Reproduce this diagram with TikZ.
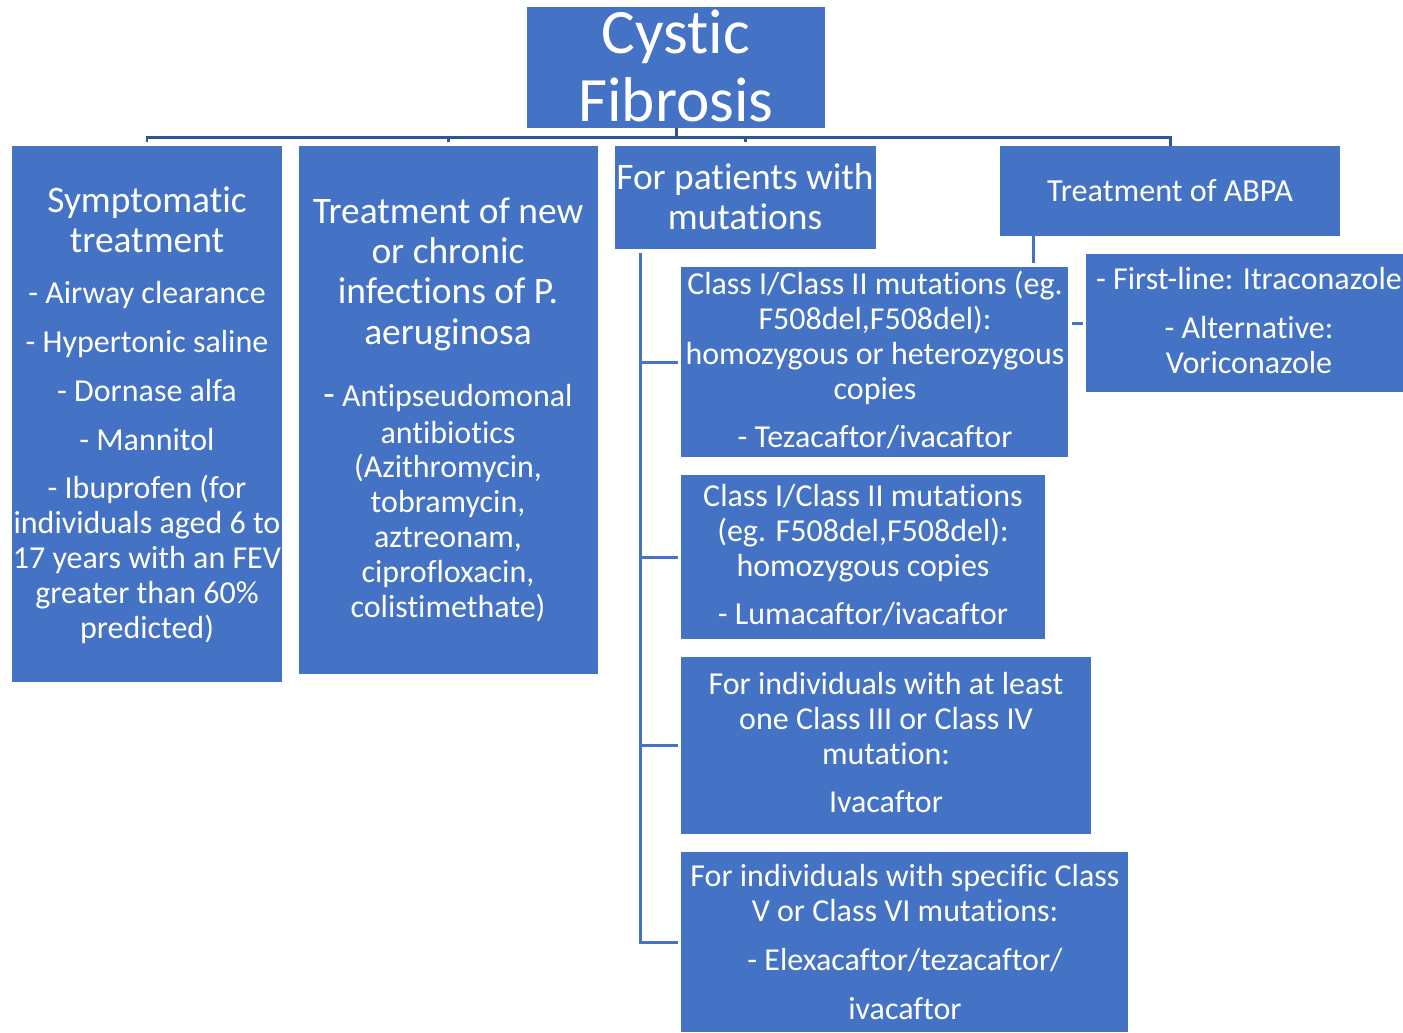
\documentclass[tikz,border=0pt]{standalone}
\usepackage{fontspec}
\setmainfont[Ligatures=NoCommon]{Carlito}
\usepackage{tikz}
\usetikzlibrary{positioning,fit,calc}

\definecolor{cfblue}{HTML}{4472C4}
\definecolor{cfdark}{HTML}{2F5597}
\newcommand\cftitle{\fontsize{36}{38.6}\selectfont}
\newcommand\cfhead{\fontsize{21.3}{23}\selectfont}
\newcommand\cfsub{\fontsize{18.3}{22}\selectfont}
\newcommand\cfbody{\fontsize{18.2}{19.8}\selectfont}

\begin{document}
\begin{tikzpicture}[x=0.02cm, y=-0.02cm,
    cfbox/.style={fill=cfblue, inner sep=0pt},
    cftext/.style={text=white, align=center, inner sep=0pt, font=\cfbody},
    bus/.style={draw=cfdark, line width=1.7pt},
    branch/.style={draw=cfblue, line width=1.7pt}]
  \useasboundingbox (0,0) rectangle (1403,1032);

  % boxes
  \node[cfbox, fit={(527,7) (825,128)}] (title) {};
  \node[cfbox, fit={(12,146) (282,682)}] (symp) {};
  \node[cfbox, fit={(299,146) (598,674)}] (inf) {};
  \node[cfbox, fit={(615,146) (876,249)}] (mut) {};
  \node[cfbox, fit={(1000,146) (1340,236)}] (abpa) {};
  \node[cfbox, fit={(1086,254) (1403,392)}] (abpadrug) {};
  \node[cfbox, fit={(681,267) (1068,457)}] (cls1) {};
  \node[cfbox, fit={(681,475) (1045,639)}] (cls2) {};
  \node[cfbox, fit={(681,657) (1091,834)}] (cls3) {};
  \node[cfbox, fit={(681,852) (1128,1032)}] (cls4) {};

  % texts
  \node[cftext, font=\cftitle] (titletext) at (676,66) {Cystic\\Fibrosis};
  \node[cftext, font=\cfhead, anchor=north] (symphead) at (147,186)
      {Symptomatic\\treatment};
  \node[cftext, anchor=north] (sympbody) at (147,281)
      {- Airway clearance\\[8pt]- Hypertonic saline\\[8pt]- Dornase alfa\\[8pt]- Mannitol\\[8pt]- Ibuprofen (for\\individuals aged 6 to\\17 years with an FEV\\greater than 60\%\\predicted)};
  \node[cftext, font=\cfhead, anchor=north] (infhead) at (448,197)
      {Treatment of new\\or chronic\\infections of P.\\aeruginosa};
  \node[cftext, anchor=north] (infbody) at (448,384)
      {{\cfhead -} Antipseudomonal\\[1pt]antibiotics\\(Azithromycin,\\tobramycin,\\aztreonam,\\ciprofloxacin,\\colistimethate)};
  \node[cftext, font=\cfhead, anchor=north] (muthead) at (745,163)
      {For patients with\\mutations};
  \node[cftext, font=\cfsub] (abpahead) at (1170,191) {Treatment of ABPA};
  \node[cftext, anchor=north] (abpatext) at (1249,267)
      {- First-line: Itraconazole\\[8pt]- Alternative:\\Voriconazole};
  \node[cftext, anchor=north] (cls1text) at (875,271)
      {Class I/Class II mutations (eg.\\F508del,F508del):\\homozygous or heterozygous\\copies\\[8pt]- Tezacaftor/ivacaftor};
  \node[cftext, anchor=north] (cls2text) at (863,484)
      {Class I/Class II mutations\\(eg. F508del,F508del):\\homozygous copies\\[8pt]- Lumacaftor/ivacaftor};
  \node[cftext, anchor=north] (cls3text) at (886,672)
      {For individuals with at least\\one Class III or Class IV\\mutation:\\[8pt]Ivacaftor};
  \node[cftext, anchor=north] (cls4text) at (905,864)
      {For individuals with specific Class\\V or Class VI mutations:\\[8pt]- Elexacaftor/tezacaftor/\\[8pt]ivacaftor};

  % top bus
  \coordinate (bus) at (676,137);
  \draw[bus] (title.south) -- (bus);
  \draw[bus, shorten <=0.07cm] (symp.north) -- (symp.north |- bus)
      -- (abpa.north |- bus) -- (abpa.north);
  \draw[bus, shorten <=0.07cm] (inf.north) -- (inf.north |- bus);
  \draw[bus, shorten <=0.07cm] (mut.north) -- (mut.north |- bus);

  % mutation branches
  \coordinate (spine) at (640,253);
  \draw[branch, shorten >=0.06cm] (spine) |- (cls4.west);
  \draw[branch, shorten >=0.06cm] (spine |- cls1.west) -- (cls1.west);
  \draw[branch, shorten >=0.06cm] (spine |- cls2.west) -- (cls2.west);
  \draw[branch, shorten >=0.06cm] (spine |- cls3.west) -- (cls3.west);

  % ABPA branch
  \coordinate (abpastem) at (1033,263);
  \draw[branch] (abpastem |- abpa.south) -- (abpastem);
  \draw[branch] ([xshift=-0.28cm]abpadrug.west) -- ([xshift=-0.06cm]abpadrug.west);
\end{tikzpicture}
\end{document}
